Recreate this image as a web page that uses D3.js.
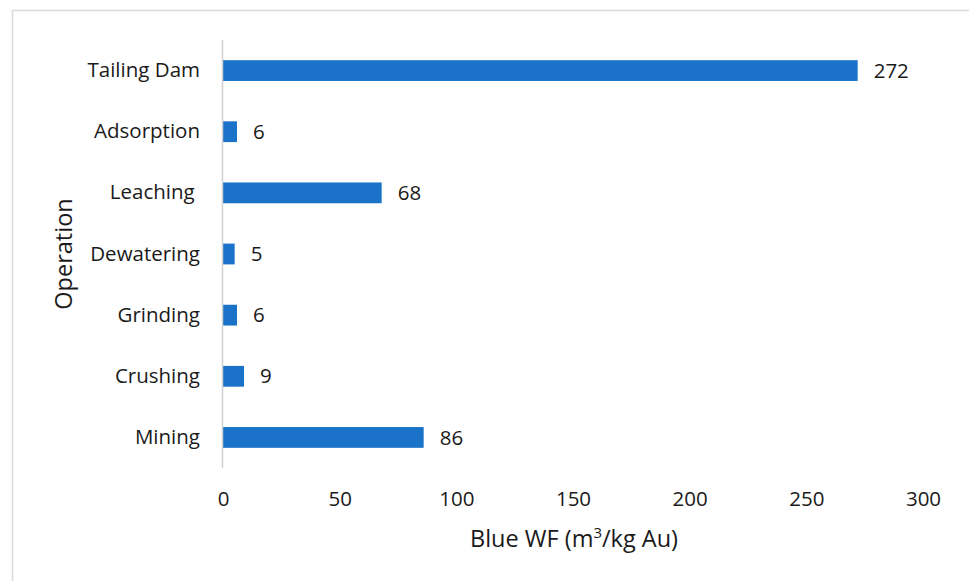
<!DOCTYPE html>
<html>
<head>
<meta charset="utf-8">
<script src="https://cdn.jsdelivr.net/npm/d3@7"></script>
<style>
  html, body { margin: 0; padding: 0; background: #fff; }
  svg { display: block; }
  text { white-space: pre; }
</style>
</head>
<body>
<svg id="chart" width="969" height="581" font-family="'Open Sans', sans-serif"></svg>
<script>
// Blue water footprint per operation
const operations = ["Tailing Dam", "Adsorption", "Leaching ", "Dewatering", "Grinding", "Crushing", "Mining"];
const blueWF = [272, 6, 68, 5, 6, 9, 86];
const xTicks = [0, 50, 100, 150, 200, 250, 300];

const FONT = "'Open Sans', sans-serif";
const LABEL_SIZE = 20.5;
const TITLE_SIZE = 23.5;
const INK = "#1a1a1a";

const svg = d3.select("#chart");

// outer frame
svg.append("rect")
  .attr("x", 12.5).attr("y", 10.5)
  .attr("width", 969).attr("height", 600)
  .attr("fill", "none").attr("stroke", "#d9d9d9").attr("stroke-width", 1.5);

const plot = { left: 223, right: 923, top: 40, bottom: 468 };

const x = d3.scaleLinear().domain([0, 300]).range([plot.left, plot.right]);
const y = d3.scaleBand().domain(operations).range([plot.top, plot.bottom]).paddingInner(0.66).paddingOuter(0.33);

// bars
svg.append("g").selectAll("rect")
  .data(operations)
  .join("rect")
  .attr("x", x(0))
  .attr("y", d => y(d))
  .attr("width", (d, i) => x(blueWF[i]) - x(0))
  .attr("height", y.bandwidth())
  .attr("fill", "#1a73c8");

// vertical category axis line
svg.append("line")
  .attr("x1", plot.left - 0.5).attr("x2", plot.left - 0.5)
  .attr("y1", plot.top).attr("y2", plot.bottom)
  .attr("stroke", "#d0d0d0").attr("stroke-width", 1.5);

// category labels
const yAxis = d3.axisLeft(y).tickSize(0).tickPadding(23);
const gy = svg.append("g").attr("transform", `translate(${plot.left},0)`).call(yAxis)
  .attr("font-family", FONT).attr("font-size", LABEL_SIZE);
gy.select(".domain").remove();
gy.selectAll("text").attr("fill", INK);

// value axis labels
const xAxis = d3.axisBottom(x).tickValues(xTicks).tickSize(0).tickPadding(23);
const gx = svg.append("g").attr("transform", `translate(0,${plot.bottom})`).call(xAxis)
  .attr("font-family", FONT).attr("font-size", LABEL_SIZE);
gx.select(".domain").remove();
gx.selectAll("text").attr("fill", INK);

// data labels
svg.append("g").selectAll("text")
  .data(operations)
  .join("text")
  .attr("x", (d, i) => x(blueWF[i]) + 16)
  .attr("y", d => y(d) + y.bandwidth() / 2)
  .attr("dy", "0.35em")
  .attr("font-size", LABEL_SIZE)
  .attr("fill", INK)
  .text((d, i) => blueWF[i]);

// axis titles
const xt = svg.append("text")
  .attr("x", 574)
  .attr("y", 547)
  .attr("text-anchor", "middle")
  .attr("font-size", TITLE_SIZE)
  .attr("fill", INK);
xt.append("tspan").text("Blue WF (m");
xt.append("tspan").attr("dy", -9).attr("font-size", 15).text("3");
xt.append("tspan").attr("dy", 9).text("/kg Au)");

svg.append("text")
  .attr("transform", `translate(72,${254}) rotate(-90)`)
  .attr("text-anchor", "middle")
  .attr("font-size", TITLE_SIZE)
  .attr("fill", INK)
  .text("Operation");
</script>
</body>
</html>
